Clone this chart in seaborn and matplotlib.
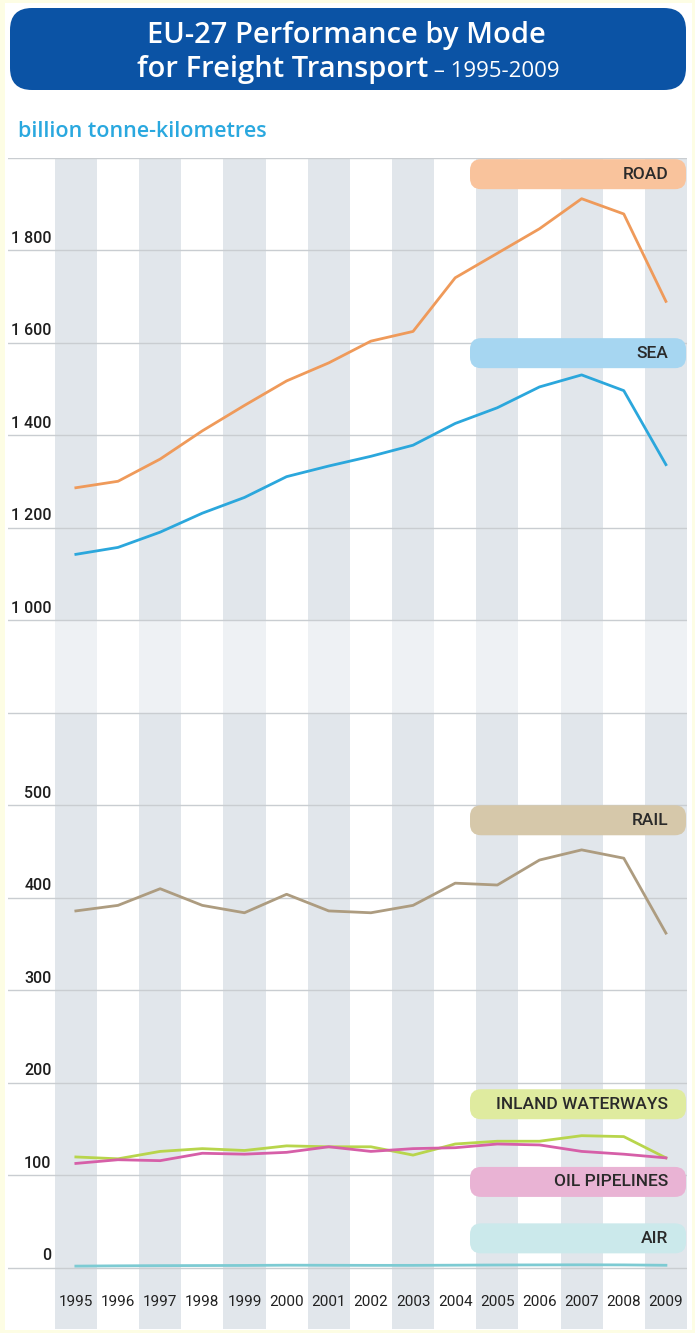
import numpy as np
import pandas as pd
import matplotlib
matplotlib.use("Agg")
import matplotlib.pyplot as plt
import matplotlib.transforms as mtransforms
from matplotlib.patches import FancyBboxPatch, Rectangle
import seaborn as sns

# ---------------- data ----------------
years = list(range(1995, 2010))
road = [1287, 1301, 1349, 1410, 1465, 1518, 1557, 1604, 1625, 1741, 1794, 1847, 1912, 1879, 1690]
sea = [1143, 1158, 1191, 1232, 1266, 1311, 1334, 1355, 1379, 1426, 1460, 1505, 1531, 1497, 1337]
rail = [386, 392, 410, 392, 384, 404, 386, 384, 392, 416, 414, 441, 452, 443, 362]
inland_waterways = [120, 118, 126, 129, 127, 132, 131, 131, 122, 134, 137, 137, 143, 142, 119]
oil_pipelines = [113, 117, 116, 124, 123, 125, 131, 126, 129, 130, 134, 133, 126, 123, 119]
air = [2.0, 2.3, 2.5, 2.6, 2.7, 3.0, 2.9, 2.8, 2.8, 3.0, 3.2, 3.3, 3.4, 3.3, 2.9]

modes = ["ROAD", "SEA", "RAIL", "INLAND WATERWAYS", "OIL PIPELINES", "AIR"]
series = [road, sea, rail, inland_waterways, oil_pipelines, air]
line_colors = ["#ef9a5a", "#2ba7dc", "#ad9c80", "#b8d54c", "#d65fa8", "#7dcbd3"]
box_colors = ["#f9c39c", "#a6d6f1", "#d6c8aa", "#dfeb9f", "#e9b3d4", "#cbe9eb"]
label_values = [1965, 1578, 484, 177, 93, 32]

ytick_values = [0, 100, 200, 300, 400, 500, 600, 1000, 1200, 1400, 1600, 1800, 2000]
ytick_labels = ["0", "100", "200", "300", "400", "500", "", "1 000", "1 200", "1 400", "1 600", "1 800", ""]

title_line1 = "EU-27 Performance by Mode"
title_line2a = "for Freight Transport"
title_line2b = " \u2013 1995-2009"
subtitle = "billion tonne-kilometres"

df = pd.DataFrame({
    "year": np.tile(years, len(modes)),
    "value": np.concatenate(series),
    "mode": np.repeat(modes, len(years)),
})

# ---------------- broken-axis scale ----------------
def fwd(v):
    v = np.asarray(v, dtype=float)
    return np.where(v <= 600, v, np.where(v < 1000, 600 + (v - 600) / 4.0, 700 + (v - 1000) / 2.0))

def inv(p):
    p = np.asarray(p, dtype=float)
    return np.where(p <= 600, p, np.where(p < 700, 600 + (p - 600) * 4.0, 1000 + (p - 700) * 2.0))

W, H = 695, 1333
fig = plt.figure(figsize=(W / 100, H / 100), dpi=100)
fig.patch.set_facecolor("#fdfde4")
# white page
fig.add_artist(Rectangle((5 / W, 3 / H), (W - 8) / W, (H - 6) / H, transform=fig.transFigure,
                         facecolor="white", edgecolor="none", zorder=-10))

ax = fig.add_axes([8 / W, 4 / H, 679 / W, (1329 - 158) / H])
ax.set_facecolor("white")
ax.set_yscale("function", functions=(fwd, inv))
ax.set_xlim(1993.39, 2009.5)
ax.set_ylim(-66, 2000)
for s in ax.spines.values():
    s.set_visible(False)
ax.set_xticks([])
ax.set_yticks([])

# stripes
for yr in years:
    if yr % 2 == 1:
        ax.axvspan(yr - 0.5, yr + 0.5, color="#e1e6eb", lw=0, zorder=0)
        ax.fill_between([yr - 0.5, yr + 0.5], 600, 1000, color="#eef1f4", lw=0, zorder=0.5)

# grid lines
for v in ytick_values:
    ax.axhline(v, color="#c9cdd1", lw=1.0, zorder=1)

blend = mtransforms.blended_transform_factory(ax.transAxes, ax.transData)
for v, lab in zip(ytick_values, ytick_labels):
    if lab:
        ax.annotate(lab, xy=(0.064, v), xycoords=blend, xytext=(0, 3.5), textcoords="offset points",
                    ha="right", va="bottom", fontsize=11.5, color="#1e1e1e", family="Roboto",
                    fontweight="medium")

sns.lineplot(data=df, x="year", y="value", hue="mode", palette=dict(zip(modes, line_colors)),
             linewidth=2.0, legend=False, ax=ax, zorder=3)

for yr in years:
    ax.text(yr, -37, str(yr), ha="center", va="center", fontsize=11, color="#222222", family="Roboto")

# series label boxes (in pixel space)
ident = mtransforms.IdentityTransform()
for name, val, bc in zip(modes, label_values, box_colors):
    yc = ax.transData.transform((2000, val))[1]
    box = FancyBboxPatch((470, yc - 15), 216, 30, boxstyle="round,pad=0,rounding_size=11",
                         transform=ident, facecolor=bc, edgecolor="none", zorder=4)
    fig.add_artist(box)
    fig.text(668 / W, yc / H, name, ha="right", va="center", fontsize=12.5, color="#2a2a2a",
             family="Roboto", fontweight="medium", zorder=5)

# title box
fig.add_artist(FancyBboxPatch((10, H - 90), 676, 82, boxstyle="round,pad=0,rounding_size=22",
                              transform=ident, facecolor="#0b53a5", edgecolor="none", zorder=4))
fig.text(346 / W, (H - 43) / H, title_line1, ha="center", va="baseline", fontsize=21,
         fontweight="semibold", color="white", family="Open Sans", zorder=5)
renderer = fig.canvas.get_renderer()
t1 = fig.text(0, (H - 77) / H, title_line2a, ha="left", va="baseline", fontsize=21,
              fontweight="semibold", color="white", family="Open Sans", zorder=5)
t2 = fig.text(0, (H - 77) / H, title_line2b, ha="left", va="baseline", fontsize=16,
              color="white", family="Open Sans", zorder=5)
w1 = t1.get_window_extent(renderer).width
w2 = t2.get_window_extent(renderer).width
x0 = 348 - (w1 + w2) / 2
t1.set_x(x0 / W)
t2.set_x((x0 + w1) / W)

fig.text(18 / W, (H - 137) / H, subtitle, ha="left", va="baseline", fontsize=15.5,
         color="#2aa8df", family="Open Sans", fontweight="semibold")

fig.savefig("out.png", dpi=100)
